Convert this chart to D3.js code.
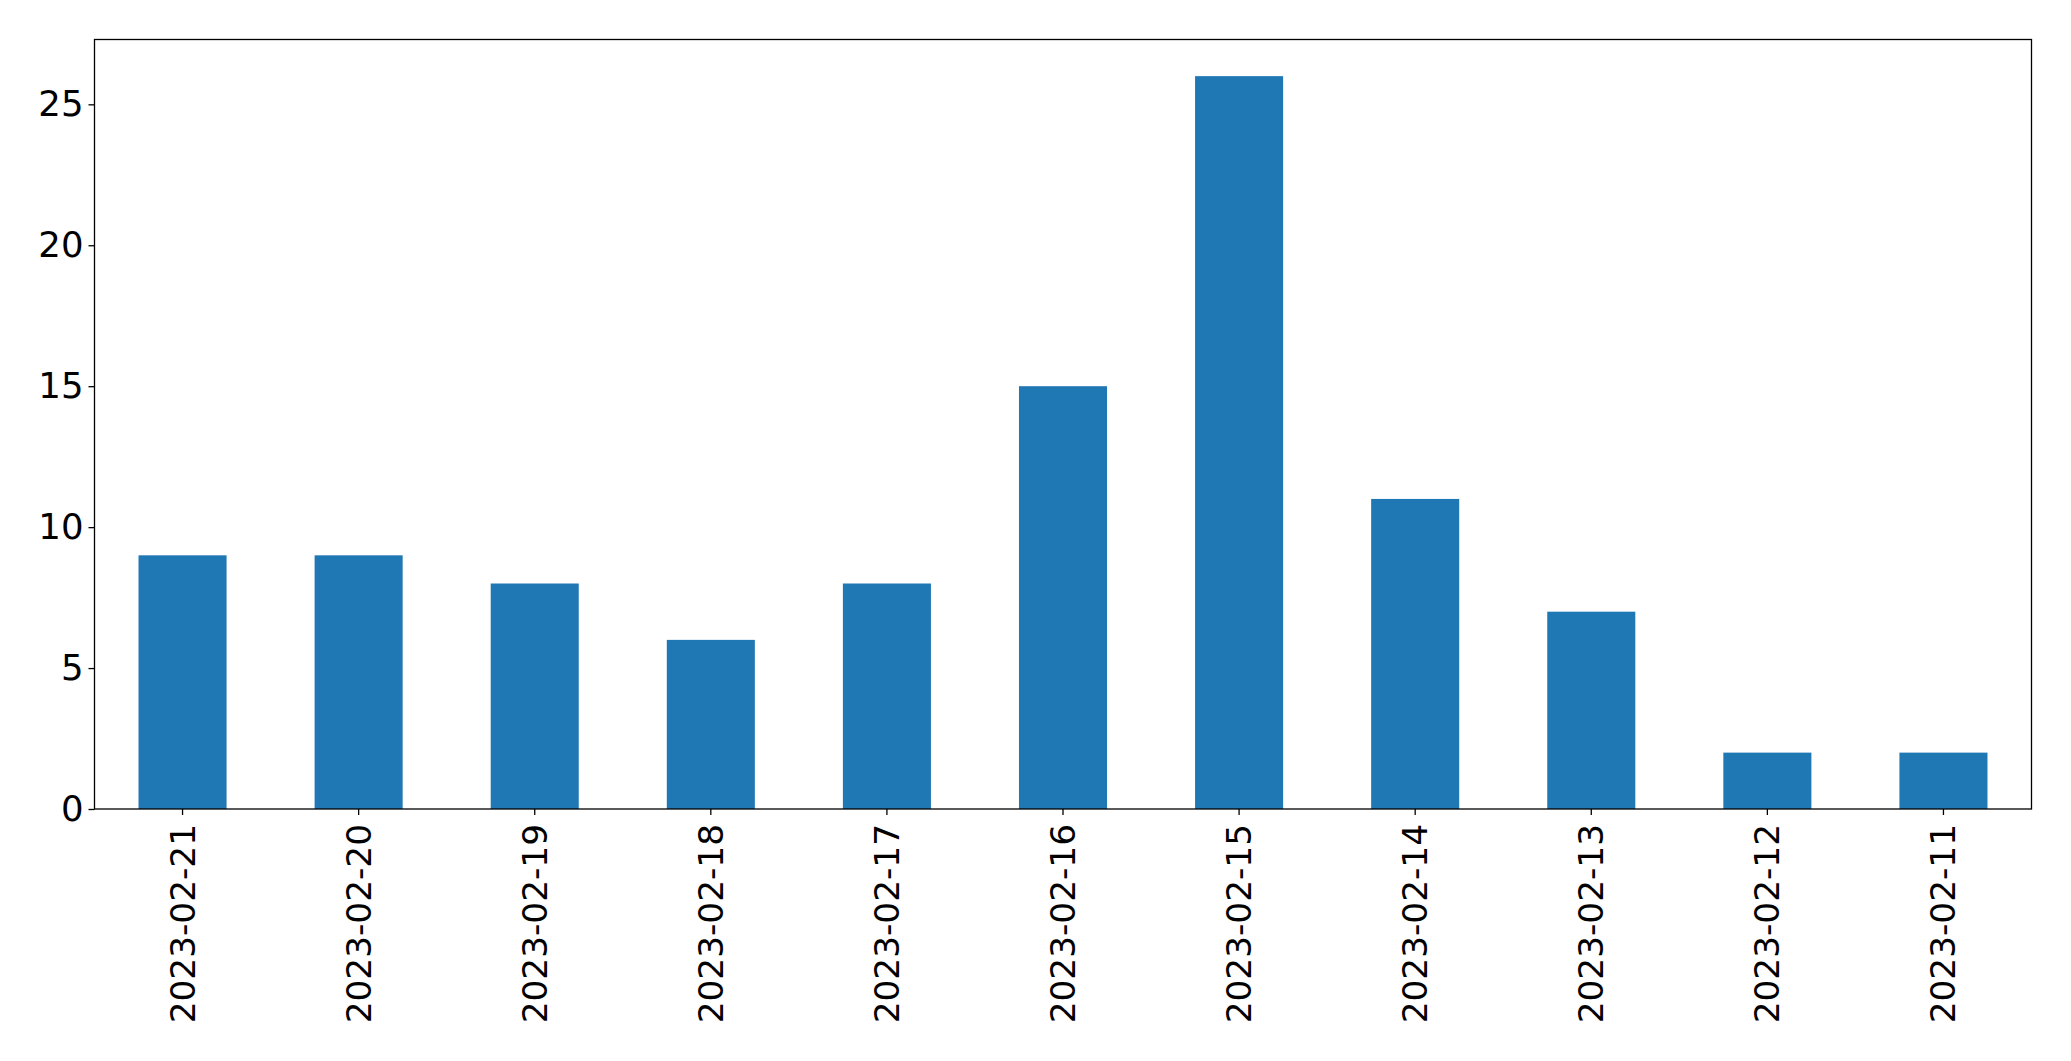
<!DOCTYPE html>
<html><head><meta charset="utf-8">
<script src="https://cdn.jsdelivr.net/npm/d3@7"></script>
<style>body{margin:0;background:#fff}svg{display:block}</style>
</head><body>
<script>
const categories = ["2023-02-21","2023-02-20","2023-02-19","2023-02-18","2023-02-17","2023-02-16","2023-02-15","2023-02-14","2023-02-13","2023-02-12","2023-02-11"];
const values = [9,9,8,6,8,15,26,11,7,2,2];
const yTicks = [0,5,10,15,20,25];

(function(){
const W = 2071, H = 1061;
const mLeft = 94.5, mRight = 2031.5, mTop = 39.5, mBottom = 809;
const svg = d3.select("body").append("svg").attr("width", W).attr("height", H);

const x = d3.scaleBand().domain(categories).range([mLeft, mRight]).paddingInner(0.5).paddingOuter(0.25);
const y = d3.scaleLinear().domain([0, d3.max(values) * 1.05]).range([mBottom, mTop]);

svg.selectAll("rect.bar").data(values).enter().append("rect")
  .attr("class","bar")
  .attr("x", (d,i) => x(categories[i]))
  .attr("width", x.bandwidth())
  .attr("y", d => y(d))
  .attr("height", d => y(0) - y(d))
  .attr("fill", "#1f77b4");

const font = "DejaVu Sans, sans-serif";
const yAxis = d3.axisLeft(y).tickValues(yTicks).tickSize(6).tickPadding(5).tickFormat(d3.format("d"));
const gy = svg.append("g").attr("transform", `translate(${mLeft},0)`).call(yAxis);
gy.select(".domain").remove();
gy.selectAll("line").attr("stroke","#000").attr("stroke-width",1.3);
gy.selectAll("text").attr("font-family", font).attr("font-size", 35.5).attr("fill","#000");

const xAxis = d3.axisBottom(x).tickSize(6).tickPadding(0);
const gx = svg.append("g").attr("transform", `translate(0,${mBottom})`).call(xAxis);
gx.select(".domain").remove();
gx.selectAll("line").attr("stroke","#000").attr("stroke-width",1.3);
gx.selectAll("text")
  .attr("font-family", font).attr("font-size", 34.3).attr("fill","#000")
  .attr("text-anchor","end")
  .attr("dy", null)
  .attr("transform","translate(0,15) rotate(-90)")
  .attr("x",0).attr("y",0)
  .attr("dominant-baseline","central");

svg.append("rect").attr("x", mLeft).attr("y", mTop).attr("width", mRight-mLeft).attr("height", mBottom-mTop)
  .attr("fill","none").attr("stroke","#000").attr("stroke-width",1.3);
})();
</script>
</body></html>
